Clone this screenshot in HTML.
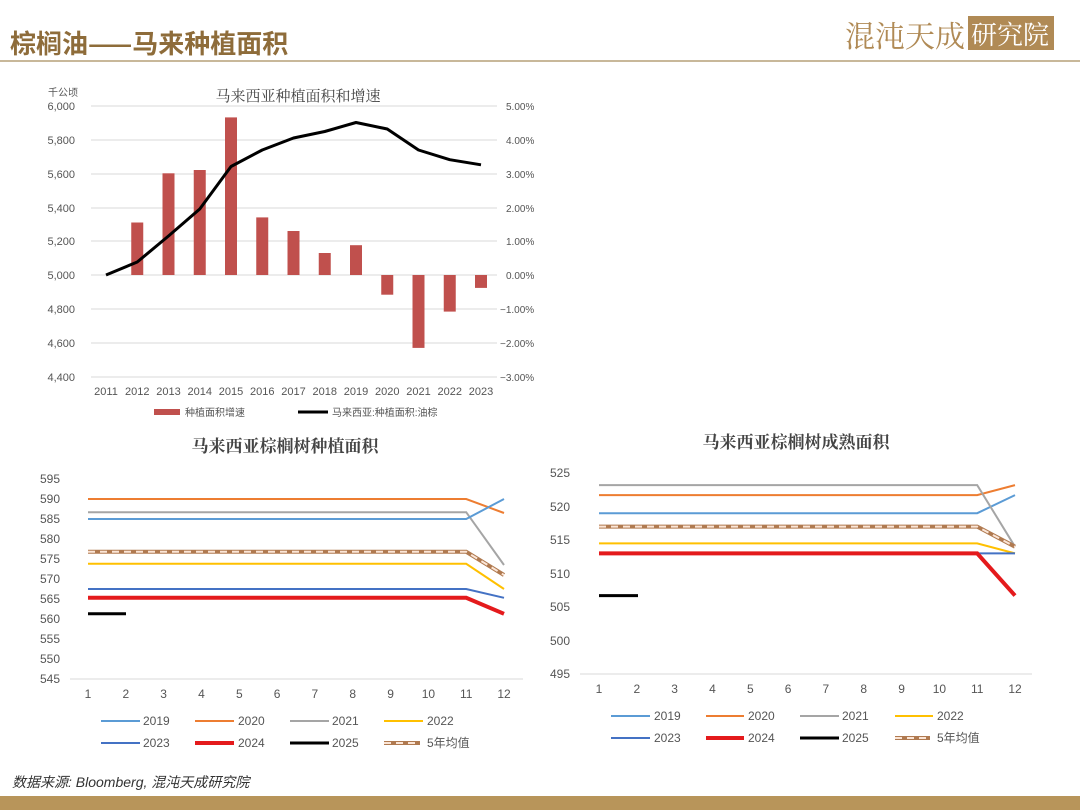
<!DOCTYPE html>
<html><head><meta charset="utf-8"><style>
body{margin:0;width:1080px;height:810px;background:#fff;overflow:hidden;font-family:"Liberation Sans","Noto Sans CJK SC",sans-serif}
svg{position:absolute;left:0;top:0}
</style></head><body>
<svg width="1080" height="810" xmlns="http://www.w3.org/2000/svg" font-family="Liberation Sans, Noto Sans CJK SC, sans-serif">
<!-- header -->
<text x="10" y="53" font-size="26" font-weight="bold" fill="#8e6c3a" font-family="Noto Sans CJK SC, sans-serif">棕榈油——马来种植面积</text>
<text x="845" y="47" font-size="30" fill="#b08a55" font-family="Noto Serif CJK SC, serif">混沌天成</text>
<rect x="968" y="16" width="86" height="34" fill="#b08a55"/>
<text x="971" y="44" font-size="26" fill="#fff" font-family="Noto Serif CJK SC, serif">研究院</text>
<rect x="0" y="60" width="1080" height="2" fill="#c8b89a"/>
<rect x="0" y="796" width="1080" height="14" fill="#b8955a"/>
<text x="12" y="787" font-size="14" font-style="italic" fill="#333">数据来源: Bloomberg, 混沌天成研究院</text>

<!-- chart 1 -->
<text x="48" y="96" font-size="10" fill="#555">千公顷</text>
<text x="298" y="101" font-size="15" fill="#444" text-anchor="middle" font-family="Noto Serif CJK SC, serif">马来西亚种植面积和增速</text>
<g stroke="#d9d9d9" stroke-width="1">
<line x1="91" x2="497" y1="106" y2="106"/><line x1="91" x2="497" y1="140" y2="140"/><line x1="91" x2="497" y1="174" y2="174"/><line x1="91" x2="497" y1="208" y2="208"/><line x1="91" x2="497" y1="241" y2="241"/><line x1="91" x2="497" y1="275" y2="275"/><line x1="91" x2="497" y1="309" y2="309"/><line x1="91" x2="497" y1="343" y2="343"/><line x1="91" x2="497" y1="377" y2="377"/>
</g>
<g font-size="11" fill="#555" text-anchor="end">
<text x="75" y="110">6,000</text><text x="75" y="144">5,800</text><text x="75" y="178">5,600</text><text x="75" y="212">5,400</text><text x="75" y="245">5,200</text><text x="75" y="279">5,000</text><text x="75" y="313">4,800</text><text x="75" y="347">4,600</text><text x="75" y="381">4,400</text>
</g>
<g font-size="10" fill="#555">
<text x="506" y="110">5.00%</text><text x="506" y="144">4.00%</text><text x="506" y="178">3.00%</text><text x="506" y="212">2.00%</text><text x="506" y="245">1.00%</text><text x="506" y="279">0.00%</text><text x="500" y="313">−1.00%</text><text x="500" y="347">−2.00%</text><text x="500" y="381">−3.00%</text>
</g>
<g fill="#c0504d">
<rect x="131.25" y="222.5" width="12" height="52.5"/><rect x="162.5" y="173.3" width="12" height="101.7"/><rect x="193.75" y="170" width="12" height="105"/><rect x="225" y="117.4" width="12" height="157.6"/><rect x="256.25" y="217.4" width="12" height="57.6"/><rect x="287.5" y="231" width="12" height="44"/><rect x="318.75" y="253" width="12" height="22"/><rect x="350" y="245.2" width="12" height="29.8"/><rect x="381.25" y="275" width="12" height="19.7"/><rect x="412.5" y="275" width="12" height="72.9"/><rect x="443.75" y="275" width="12" height="36.6"/><rect x="475" y="275" width="12" height="12.9"/>
</g>
<polyline fill="none" stroke="#000" stroke-width="3" stroke-linejoin="round" points="106,275 137.25,262 168.5,236 199.75,209 231,166.5 262.25,150 293.5,138 324.75,131.5 356,122.5 387.25,129 418.5,150 449.75,159.7 481,164.8"/>
<g font-size="11" fill="#555" text-anchor="middle">
<text x="106" y="395">2011</text><text x="137.25" y="395">2012</text><text x="168.5" y="395">2013</text><text x="199.75" y="395">2014</text><text x="231" y="395">2015</text><text x="262.25" y="395">2016</text><text x="293.5" y="395">2017</text><text x="324.75" y="395">2018</text><text x="356" y="395">2019</text><text x="387.25" y="395">2020</text><text x="418.5" y="395">2021</text><text x="449.75" y="395">2022</text><text x="481" y="395">2023</text>
</g>
<rect x="154" y="409" width="26" height="6" fill="#c0504d"/>
<text x="185" y="416" font-size="10" fill="#555">种植面积增速</text>
<line x1="298" x2="328" y1="412" y2="412" stroke="#000" stroke-width="3"/>
<text x="332" y="416" font-size="10" fill="#555">马来西亚:种植面积:油棕</text>

<!-- chart 2 -->
<text x="285" y="452" font-size="17" fill="#444" font-weight="bold" text-anchor="middle" font-family="Noto Serif CJK SC, serif">马来西亚棕榈树种植面积</text>
<line x1="70" x2="523" y1="679" y2="679" stroke="#d9d9d9"/>
<g font-size="12" fill="#555" text-anchor="end">
<text x="60" y="483">595</text><text x="60" y="503">590</text><text x="60" y="523">585</text><text x="60" y="543">580</text><text x="60" y="563">575</text><text x="60" y="583">570</text><text x="60" y="603">565</text><text x="60" y="623">560</text><text x="60" y="643">555</text><text x="60" y="663">550</text><text x="60" y="683">545</text>
</g>
<g font-size="12" fill="#555" text-anchor="middle">
<text x="88" y="698">1</text><text x="125.8" y="698">2</text><text x="163.6" y="698">3</text><text x="201.5" y="698">4</text><text x="239.3" y="698">5</text><text x="277.1" y="698">6</text><text x="314.9" y="698">7</text><text x="352.7" y="698">8</text><text x="390.6" y="698">9</text><text x="428.4" y="698">10</text><text x="466.2" y="698">11</text><text x="504" y="698">12</text>
</g>
<g fill="none" stroke-width="2">
<polyline stroke="#ed7d31" points="88,499 466.2,499 504,513"/>
<polyline stroke="#a5a5a5" points="88,512.2 466.2,512.2 504,565"/>
<polyline stroke="#5b9bd5" points="88,519 466.2,519 504,499"/>
<polyline stroke="#ffc000" points="88,563.8 466.2,563.8 504,589"/>
<polyline stroke="#4472c4" points="88,589 466.2,589 504,597.8"/>
<polyline stroke="#e41a1c" stroke-width="4" points="88,597.8 466.2,597.8 504,613.8"/>
<polyline stroke="#000" stroke-width="3" points="88,613.8 126,613.8"/>
<polyline stroke="#b07a50" stroke-width="4" points="88,551.8 466.2,551.8 504,575"/>
<polyline stroke="#fbe5d6" stroke-width="2" stroke-dasharray="7 5" points="88,551.8 466.2,551.8 504,575"/>
</g>
<g font-size="12" fill="#555">
<line x1="101" x2="140" y1="721" y2="721" stroke="#5b9bd5" stroke-width="2"/><text x="143" y="725">2019</text>
<line x1="195" x2="234" y1="721" y2="721" stroke="#ed7d31" stroke-width="2"/><text x="238" y="725">2020</text>
<line x1="290" x2="329" y1="721" y2="721" stroke="#a5a5a5" stroke-width="2"/><text x="332" y="725">2021</text>
<line x1="384" x2="423" y1="721" y2="721" stroke="#ffc000" stroke-width="2"/><text x="427" y="725">2022</text>
<line x1="101" x2="140" y1="743" y2="743" stroke="#4472c4" stroke-width="2"/><text x="143" y="747">2023</text>
<line x1="195" x2="234" y1="743" y2="743" stroke="#e41a1c" stroke-width="4"/><text x="238" y="747">2024</text>
<line x1="290" x2="329" y1="743" y2="743" stroke="#000" stroke-width="3"/><text x="332" y="747">2025</text>
<line x1="384" x2="420" y1="743" y2="743" stroke="#b07a50" stroke-width="4"/><line x1="384" x2="420" y1="743" y2="743" stroke="#fbe5d6" stroke-width="2" stroke-dasharray="7 5"/><text x="427" y="747">5年均值</text>
</g>

<!-- chart 3 -->
<text x="796" y="448" font-size="17" fill="#444" font-weight="bold" text-anchor="middle" font-family="Noto Serif CJK SC, serif">马来西亚棕榈树成熟面积</text>
<line x1="580" x2="1032" y1="674" y2="674" stroke="#d9d9d9"/>
<g font-size="12" fill="#555" text-anchor="end">
<text x="570" y="477">525</text><text x="570" y="511">520</text><text x="570" y="544">515</text><text x="570" y="578">510</text><text x="570" y="611">505</text><text x="570" y="645">500</text><text x="570" y="678">495</text>
</g>
<g font-size="12" fill="#555" text-anchor="middle">
<text x="599" y="693">1</text><text x="636.8" y="693">2</text><text x="674.6" y="693">3</text><text x="712.5" y="693">4</text><text x="750.3" y="693">5</text><text x="788.1" y="693">6</text><text x="825.9" y="693">7</text><text x="863.7" y="693">8</text><text x="901.6" y="693">9</text><text x="939.4" y="693">10</text><text x="977.2" y="693">11</text><text x="1015" y="693">12</text>
</g>
<g fill="none" stroke-width="2">
<polyline stroke="#5b9bd5" points="599,513.2 977.2,513.2 1015,495.1"/>
<polyline stroke="#ed7d31" points="599,495.1 977.2,495.1 1015,485.1"/>
<polyline stroke="#a5a5a5" points="599,485.1 977.2,485.1 1015,546.7"/>
<polyline stroke="#ffc000" points="599,543.4 977.2,543.4 1015,553.4"/>
<polyline stroke="#4472c4" points="599,553.4 977.2,553.4 1015,553.4"/>
<polyline stroke="#e41a1c" stroke-width="4" points="599,553.4 977.2,553.4 1015,595.6"/>
<polyline stroke="#000" stroke-width="3" points="599,595.6 638,595.6"/>
<polyline stroke="#b07a50" stroke-width="4" points="599,526.6 977.2,526.6 1015,546.7"/>
<polyline stroke="#fbe5d6" stroke-width="2" stroke-dasharray="7 5" points="599,526.6 977.2,526.6 1015,546.7"/>
</g>
<g font-size="12" fill="#555">
<line x1="611" x2="650" y1="716" y2="716" stroke="#5b9bd5" stroke-width="2"/><text x="654" y="720">2019</text>
<line x1="706" x2="744" y1="716" y2="716" stroke="#ed7d31" stroke-width="2"/><text x="748" y="720">2020</text>
<line x1="800" x2="839" y1="716" y2="716" stroke="#a5a5a5" stroke-width="2"/><text x="842" y="720">2021</text>
<line x1="895" x2="933" y1="716" y2="716" stroke="#ffc000" stroke-width="2"/><text x="937" y="720">2022</text>
<line x1="611" x2="650" y1="738" y2="738" stroke="#4472c4" stroke-width="2"/><text x="654" y="742">2023</text>
<line x1="706" x2="744" y1="738" y2="738" stroke="#e41a1c" stroke-width="4"/><text x="748" y="742">2024</text>
<line x1="800" x2="839" y1="738" y2="738" stroke="#000" stroke-width="3"/><text x="842" y="742">2025</text>
<line x1="895" x2="930" y1="738" y2="738" stroke="#b07a50" stroke-width="4"/><line x1="895" x2="930" y1="738" y2="738" stroke="#fbe5d6" stroke-width="2" stroke-dasharray="7 5"/><text x="937" y="742">5年均值</text>
</g>
</svg>
</body></html>
